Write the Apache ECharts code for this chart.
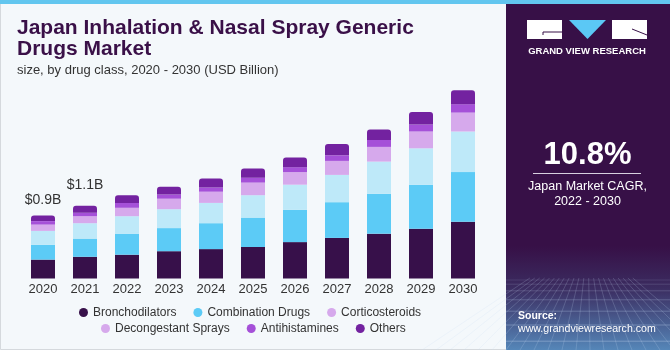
<!DOCTYPE html>
<html>
<head>
<meta charset="utf-8">
<script src="https://cdn.jsdelivr.net/npm/echarts@6/dist/echarts.min.js"></script>
<style>
html,body{margin:0;padding:0;background:#f4f8fb;}
#chart{width:670px;height:350px;}
</style>
</head>
<body>
<div id="chart"></div>
<script>
// ---- data (USD Billion) ----
const years = ['2020','2021','2022','2023','2024','2025','2026','2027','2028','2029','2030'];
const bronchodilators   = [0.27,0.31,0.34,0.39,0.42,0.45,0.52,0.58,0.64,0.71,0.81];
const combinationDrugs  = [0.21,0.26,0.30,0.33,0.37,0.42,0.46,0.51,0.57,0.63,0.71];
const corticosteroids   = [0.20,0.22,0.25,0.27,0.29,0.32,0.36,0.39,0.46,0.52,0.58];
const decongestantSprays= [0.09,0.10,0.12,0.15,0.16,0.18,0.18,0.20,0.21,0.24,0.27];
const antihistamines    = [0.05,0.05,0.07,0.06,0.06,0.07,0.07,0.08,0.10,0.10,0.12];
const others            = [0.08,0.10,0.11,0.11,0.13,0.13,0.14,0.16,0.15,0.18,0.20];
const totalLabels = ['$0.9B','$1.1B','','','','','','','','',''];
const seriesNames = ['Bronchodilators','Combination Drugs','Corticosteroids','Decongestant Sprays','Antihistamines','Others'];
const barColors    = ['#37104a','#5ccbf6','#bee9f9','#d6a9ec','#a550d8','#7322a0'];
const legendColors = ['#37104a','#5ccbf6','#d6a9ec','#d6a9ec','#a550d8','#7322a0'];
const labelDistances = [8,14,0,0,0,0,0,0,0,0,0];

const chart = echarts.init(document.getElementById('chart'), null, {renderer:'canvas'});
const values = [bronchodilators, combinationDrugs, corticosteroids, decongestantSprays, antihistamines, others];

const series = seriesNames.map((name, si) => {
  const isTop = si === seriesNames.length - 1;
  return {
    name: name,
    type: 'bar',
    stack: 'total',
    barWidth: 24,
    itemStyle: { color: barColors[si], borderRadius: isTop ? [3,3,0,0] : 0 },
    data: values[si].map((v, i) => {
      if (isTop && totalLabels[i]) {
        return { value: v, label: { show: true, position: 'top', distance: labelDistances[i],
          formatter: totalLabels[i], color: '#333', fontSize: 14, fontFamily: 'Liberation Sans' } };
      }
      return v;
    })
  };
});

const legendItem = (n) => ({ name: n, itemStyle: { color: legendColors[seriesNames.indexOf(n)] } });
const legendBase = {
  icon: 'circle', itemWidth: 9, itemHeight: 9, itemGap: 17, padding: 0,
  textStyle: { color: '#333', fontSize: 12, fontFamily: 'Liberation Sans', lineHeight: 14 },
  selectedMode: false
};

// panel background grid decoration lines
const gridLines = [];
for (let k = 0; k < 8; k++) {
  const y = 280 + k * k * 1.2 + k * 3;
  gridLines.push({ type: 'line', shape: { x1: 506, y1: y, x2: 670, y2: y },
    style: { stroke: 'rgba(200,220,245,' + (0.12 + k * 0.04) + ')', lineWidth: 1 }, silent: true });
}
for (let k = -6; k < 16; k++) {
  const xb = 506 + k * 14;
  gridLines.push({ type: 'line', shape: { x1: 588 + (xb - 588) * 0.35, y1: 278, x2: xb, y2: 350 },
    style: { stroke: 'rgba(200,220,245,0.2)', lineWidth: 1 }, silent: true });
}

const option = {
  animation: false,
  backgroundColor: '#f4f8fb',
  grid: { left: 22, right: 186, top: 68.5, bottom: 71.5 },
  xAxis: {
    type: 'category', data: years,
    axisLine: { show: false }, axisTick: { show: false },
    axisLabel: { color: '#333', fontSize: 13, fontFamily: 'Liberation Sans', margin: 4 }
  },
  yAxis: { type: 'value', min: 0, max: 3, show: false, splitLine: { show: false } },
  legend: [
    Object.assign({}, legendBase, { left: 79, top: 305.5, data: ['Bronchodilators','Combination Drugs','Corticosteroids'].map(legendItem) }),
    Object.assign({}, legendBase, { left: 101, top: 321.5, data: ['Decongestant Sprays','Antihistamines','Others'].map(legendItem) })
  ],
  graphic: [
    { type: 'rect', z: -10, shape: { x: 0.5, y: 0, width: 669, height: 349.5 }, style: { fill: '#f4f8fb', stroke: '#d5d9dd', lineWidth: 1 }, silent: true },
    { type: 'rect', shape: { x: 0, y: 0, width: 670, height: 4 }, style: { fill: '#62c6ef' }, silent: true },
    { type: 'rect', shape: { x: 506, y: 4, width: 164, height: 346 }, style: {
        fill: new echarts.graphic.LinearGradient(0, 0, 0, 1, [
          { offset: 0, color: '#371047' }, { offset: 0.7, color: '#371047' },
          { offset: 0.82, color: '#3b2c60' }, { offset: 1, color: '#5586b8' }
        ]) }, silent: true },
    ...gridLines,
    // logo
    { type: 'rect', shape: { x: 527, y: 20, width: 35, height: 19 }, style: { fill: '#ffffff' }, silent: true },
    { type: 'line', shape: { x1: 543, y1: 32, x2: 562, y2: 32 }, style: { stroke: '#371047', lineWidth: 1 }, silent: true },
    { type: 'line', shape: { x1: 543, y1: 32, x2: 543, y2: 35 }, style: { stroke: '#371047', lineWidth: 1 }, silent: true },
    { type: 'polygon', shape: { points: [[569,20],[606,20],[587.5,39]] }, style: { fill: '#5bc8f5' }, silent: true },
    { type: 'rect', shape: { x: 612, y: 20, width: 35, height: 19 }, style: { fill: '#ffffff' }, silent: true },
    { type: 'line', shape: { x1: 632, y1: 29, x2: 647, y2: 35 }, style: { stroke: '#371047', lineWidth: 1 }, silent: true },
    { type: 'text', style: { text: 'GRAND VIEW RESEARCH', x: 587, y: 51, align: 'center', verticalAlign: 'middle',
        fill: '#ffffff', font: 'bold 9.5px "Liberation Sans"' }, silent: true },
    { type: 'text', style: { text: '10.8%', x: 587.5, y: 155, align: 'center', verticalAlign: 'middle',
        fill: '#ffffff', font: 'bold 31px "Liberation Sans"' }, silent: true },
    { type: 'line', shape: { x1: 533, y1: 173.5, x2: 641, y2: 173.5 }, style: { stroke: '#d8d0e0', lineWidth: 1 }, silent: true },
    { type: 'text', style: { text: 'Japan Market CAGR,', x: 587.5, y: 186.5, align: 'center', verticalAlign: 'middle',
        fill: '#ffffff', font: '12.5px "Liberation Sans"' }, silent: true },
    { type: 'text', style: { text: '2022 - 2030', x: 587.5, y: 201.5, align: 'center', verticalAlign: 'middle',
        fill: '#ffffff', font: '12.5px "Liberation Sans"' }, silent: true },
    { type: 'text', style: { text: 'Source:', x: 518, y: 316, align: 'left', verticalAlign: 'middle',
        fill: '#ffffff', font: 'bold 10.5px "Liberation Sans"' }, silent: true },
    { type: 'text', style: { text: 'www.grandviewresearch.com', x: 518, y: 329.5, align: 'left', verticalAlign: 'middle',
        fill: '#ffffff', font: '10.6px "Liberation Sans"' }, silent: true },
    // title
    { type: 'text', style: { text: 'Japan Inhalation & Nasal Spray Generic', x: 17, y: 28.3, align: 'left', verticalAlign: 'middle',
        fill: '#3a1048', font: 'bold 21px "Liberation Sans"' }, silent: true },
    { type: 'text', style: { text: 'Drugs Market', x: 17, y: 48.8, align: 'left', verticalAlign: 'middle',
        fill: '#3a1048', font: 'bold 21px "Liberation Sans"' }, silent: true },
    { type: 'text', style: { text: 'size, by drug class, 2020 - 2030 (USD Billion)', x: 17, y: 70.5, align: 'left', verticalAlign: 'middle',
        fill: '#333333', font: '13px "Liberation Sans"' }, silent: true }
  ],
  series: series
};
chart.setOption(option);
</script>
</body>
</html>
